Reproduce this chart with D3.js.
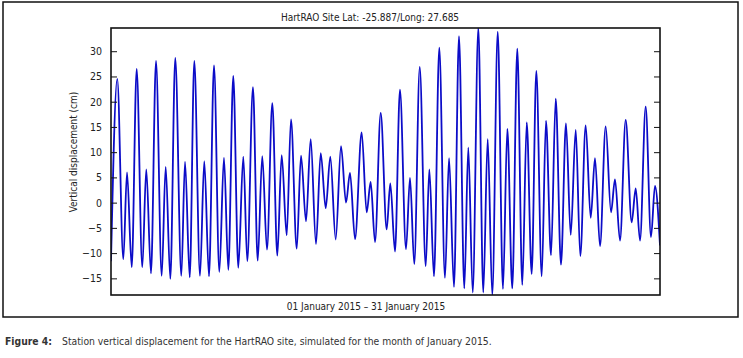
<!DOCTYPE html>
<html>
<head>
<meta charset="utf-8">
<script src="https://cdn.jsdelivr.net/npm/d3@7"></script>
<style>
body { margin: 0; background: #fff; }
text { font-family: "DejaVu Sans Condensed", "DejaVu Sans", sans-serif; font-stretch: condensed; }
</style>
</head>
<body>
<svg id="chart" width="743" height="358"></svg>
<script>
var chartTitle = "HartRAO Site Lat: -25.887/Long: 27.685";
var xLabel = "01 January 2015 \u2013 31 January 2015";
var yLabel = "Vertical displacement (cm)";
var yTicks = [-15, -10, -5, 0, 5, 10, 15, 20, 25, 30];

// hours since 01 Jan 2015 00:00, read at each high / low of the curve
var hours = [0, 8.5, 16.7, 21.7, 28.1, 34.8, 42.4, 47.8, 54.2, 61.0,
    68.7, 74.1, 80.4, 87.1, 95.3, 100.3, 106.7, 112.9, 120.6, 126.4,
    132.8, 139.6, 146.8, 153.1, 159.0, 165.7, 172.5, 179.3, 184.7, 192.4,
    198.8, 205.0, 211.4, 218.6, 225.4, 231.3, 238.1, 243.9, 251.7, 257.5,
    264.3, 270.6, 277.8, 284.2, 291.0, 297.2, 304.5, 311.7, 318.5, 323.9,
    330.7, 339.7, 346.5, 351.9, 357.8, 365.5, 373.6, 378.5, 384.9, 391.6,
    399.8, 405.2, 411.0, 418.4, 426.5, 431.4, 437.7, 444.9, 452.6, 458.1,
    464.8, 471.6, 478.8, 484.2, 490.2, 497.8, 504.5, 510.5, 516.7, 524.1,
    531.2, 537.1, 543.8, 550.6, 557.4, 563.4, 570.1, 576.4, 583.7, 589.5,
    596.3, 602.7, 609.8, 616.6, 623.0, 629.8, 636.0, 643.3, 650.1, 655.9,
    662.7, 670.4, 677.6, 683.0, 689.8, 697.5, 705.6, 711.1, 716.9, 724.6,
    731.8, 737.2, 744];

// vertical displacement (cm) at those times
var displacement = [-11.6, 24.5, -11.2, 6.0, -12.8, 26.5, -12.8, 6.6, -14.0, 28.1,
    -14.5, 7.1, -15.1, 28.7, -14.5, 8.1, -14.8, 28.1, -14.5, 8.2,
    -14.6, 27.2, -13.7, 8.9, -13.3, 25.1, -12.9, 9.1, -11.6, 22.9,
    -11.5, 9.2, -9.3, 19.7, -10.5, 9.4, -6.5, 16.5, -9.1, 9.3,
    -3.7, 12.6, -8.2, 9.8, -1.1, 9.1, -7.3, 11.2, 0.0, 5.9,
    -7.2, 13.9, -1.9, 4.1, -7.8, 17.8, -5.3, 3.8, -9.7, 22.4,
    -9.2, 4.9, -12.2, 26.9, -12.6, 6.6, -14.6, 30.7, -14.9, 8.8,
    -16.7, 33.0, -17.0, 10.9, -17.8, 34.6, -17.8, 12.6, -18.3, 33.9,
    -17.1, 14.6, -17.0, 30.5, -16.3, 15.9, -14.1, 26.1, -14.6, 16.2,
    -10.4, 20.6, -12.3, 15.7, -6.4, 14.4, -10.6, 15.3, -3.0, 8.8,
    -8.6, 15.1, -1.9, 4.6, -7.5, 16.4, -3.9, 2.8, -7.5, 19.0,
    -6.8, 3.3, -8.5];

var svg = d3.select("#chart");
var plotLeft = 111, plotRight = 660, plotTop = 28, plotBottom = 295;

var x = d3.scaleLinear().domain([0, 744]).range([plotLeft, plotRight]);
var y = d3.scaleLinear().domain(d3.extent(displacement)).range([plotBottom, plotTop]);

var points = hours.map(function (h, i) { return [h, displacement[i]]; });

// outer frame
svg.append("rect")
    .attr("x", 3).attr("y", 2)
    .attr("width", 735).attr("height", 315)
    .attr("fill", "none")
    .attr("stroke", "#111")
    .attr("stroke-width", 1.5);

svg.append("clipPath").attr("id", "plot-clip")
    .append("rect")
    .attr("x", plotLeft).attr("y", plotTop)
    .attr("width", plotRight - plotLeft).attr("height", plotBottom - plotTop);

svg.append("path")
    .datum(points)
    .attr("clip-path", "url(#plot-clip)")
    .attr("fill", "none")
    .attr("stroke", "#0c0cc8")
    .attr("stroke-width", 1.8)
    .attr("d", d3.line()
        .x(function (d) { return x(d[0]); })
        .y(function (d) { return y(d[1]); })
        .curve(d3.curveMonotoneX));

// axes, ticks pointing inward
var yAxisL = svg.append("g")
    .attr("transform", "translate(" + plotLeft + ",0)")
    .call(d3.axisLeft(y).tickValues(yTicks).tickSizeInner(-6).tickSizeOuter(0).tickPadding(9));
var yAxisR = svg.append("g")
    .attr("transform", "translate(" + plotRight + ",0)")
    .call(d3.axisRight(y).tickValues(yTicks).tickSizeInner(-6).tickSizeOuter(0).tickFormat(""));

svg.selectAll(".domain").remove();
svg.selectAll(".tick line").attr("stroke", "#111").attr("stroke-width", 1);
yAxisL.selectAll("text").attr("font-size", 10.5).attr("fill", "#222")
    .style("font-family", '"DejaVu Sans Condensed", "DejaVu Sans", sans-serif');

svg.append("rect")
    .attr("x", plotLeft).attr("y", plotTop)
    .attr("width", plotRight - plotLeft).attr("height", plotBottom - plotTop)
    .attr("fill", "none")
    .attr("stroke", "#111")
    .attr("stroke-width", 1.6);

svg.append("text")
    .attr("x", 370).attr("y", 21)
    .attr("text-anchor", "middle")
    .attr("font-size", 10)
    .attr("fill", "#222")
    .text(chartTitle);

svg.append("text")
    .attr("x", 366).attr("y", 310)
    .attr("text-anchor", "middle")
    .attr("font-size", 10)
    .attr("fill", "#222")
    .text(xLabel);

svg.append("text")
    .attr("transform", "translate(77,152) rotate(-90)")
    .attr("text-anchor", "middle")
    .attr("font-size", 10)
    .attr("fill", "#222")
    .text(yLabel);

// figure caption under the frame
var caption = svg.append("text").attr("y", 345).attr("font-size", 10.3).attr("fill", "#333");
caption.append("tspan").attr("x", 5).attr("font-weight", "bold").text("Figure 4:");
caption.append("tspan").attr("x", 62).text("Station vertical displacement for the HartRAO site, simulated for the month of January 2015.");
</script>
</body>
</html>
